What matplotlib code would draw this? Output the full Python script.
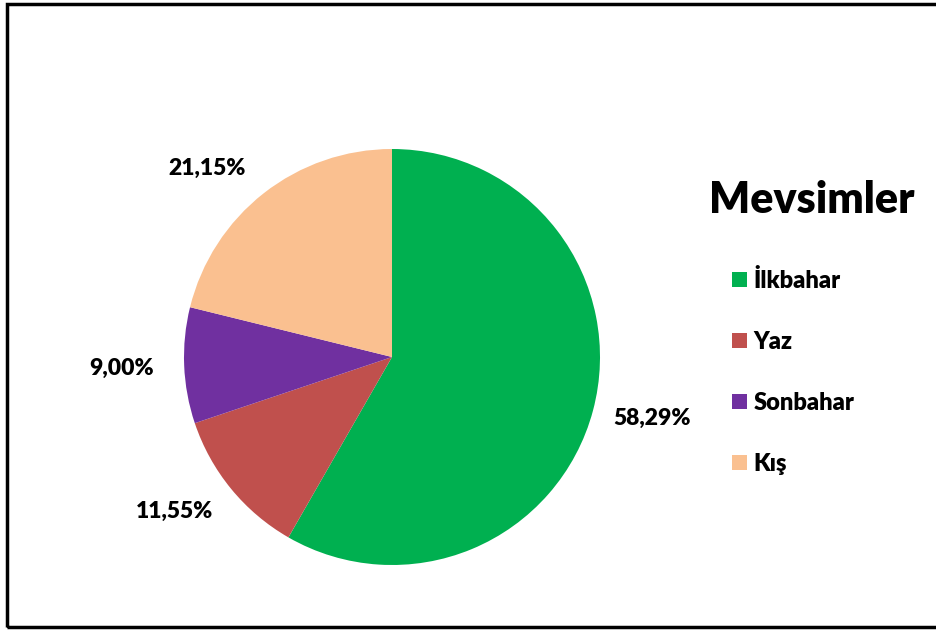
import matplotlib
matplotlib.use("Agg")
import matplotlib.pyplot as plt
from matplotlib.patches import Rectangle, Patch
import numpy as np

plt.rcParams['font.family'] = ['Lato', 'DejaVu Sans']
WEIGHT = 'heavy'

seasons = ["İlkbahar", "Yaz", "Sonbahar", "Kış"]
shares = [58.29, 11.55, 9.00, 21.15]
colors = ["#00B050", "#C0504D", "#7030A0", "#FAC090"]
title = "Mevsimler"

W, H = 936, 630
fig = plt.figure(figsize=(W / 100, H / 100), dpi=100)

# pie axes: centre (392, 357), radius 208 px
cx, cy, r = 392, 357, 208
ax = fig.add_axes([(cx - r) / W, 1 - (cy + r) / H, 2 * r / W, 2 * r / H])
wedges, _ = ax.pie(shares, colors=colors, startangle=90, counterclock=False,
                   radius=1.0, wedgeprops=dict(linewidth=0))
ax.set_xlim(-1, 1)
ax.set_ylim(-1, 1)
ax.set_aspect('auto')
ax.axis('off')

# percentage labels outside the wedges (radius factor, angular nudge in degrees)
label_r = [1.284, 1.282, 1.299, 1.271]
label_shift = [1.7, -3.9, 0.0, 6.3]
for w, v, lr, sh in zip(wedges, shares, label_r, label_shift):
    ang = np.deg2rad((w.theta1 + w.theta2) / 2 + sh)
    x, y = lr * np.cos(ang), lr * np.sin(ang)
    ax.text(x, y, f"{v:.2f}%".replace('.', ','), ha='center', va='center',
            fontsize=16.5, fontweight=WEIGHT, color='black', clip_on=False)

# legend title
fig.text(812 / W, 1 - 200 / H, title, ha='center', va='center',
         fontsize=31, fontweight=WEIGHT)

# legend entries
handles = [Patch(facecolor=c, edgecolor='none') for c in colors]
leg = fig.legend(handles, seasons, loc='center left',
                 bbox_to_anchor=(732 / W, 1 - 372 / H),
                 frameon=False, fontsize=17,
                 handlelength=0.62, handleheight=0.62, handletextpad=0.3,
                 labelspacing=1.65, borderaxespad=0, borderpad=0)
for t in leg.get_texts():
    t.set_fontweight(WEIGHT)

# outer frame
fig.patches.append(Rectangle((7 / W, 1 - 627 / H), 1.0, (627 - 4) / H,
                             transform=fig.transFigure, fill=False,
                             edgecolor='black', linewidth=2.5))

fig.savefig("out.png", dpi=100)
